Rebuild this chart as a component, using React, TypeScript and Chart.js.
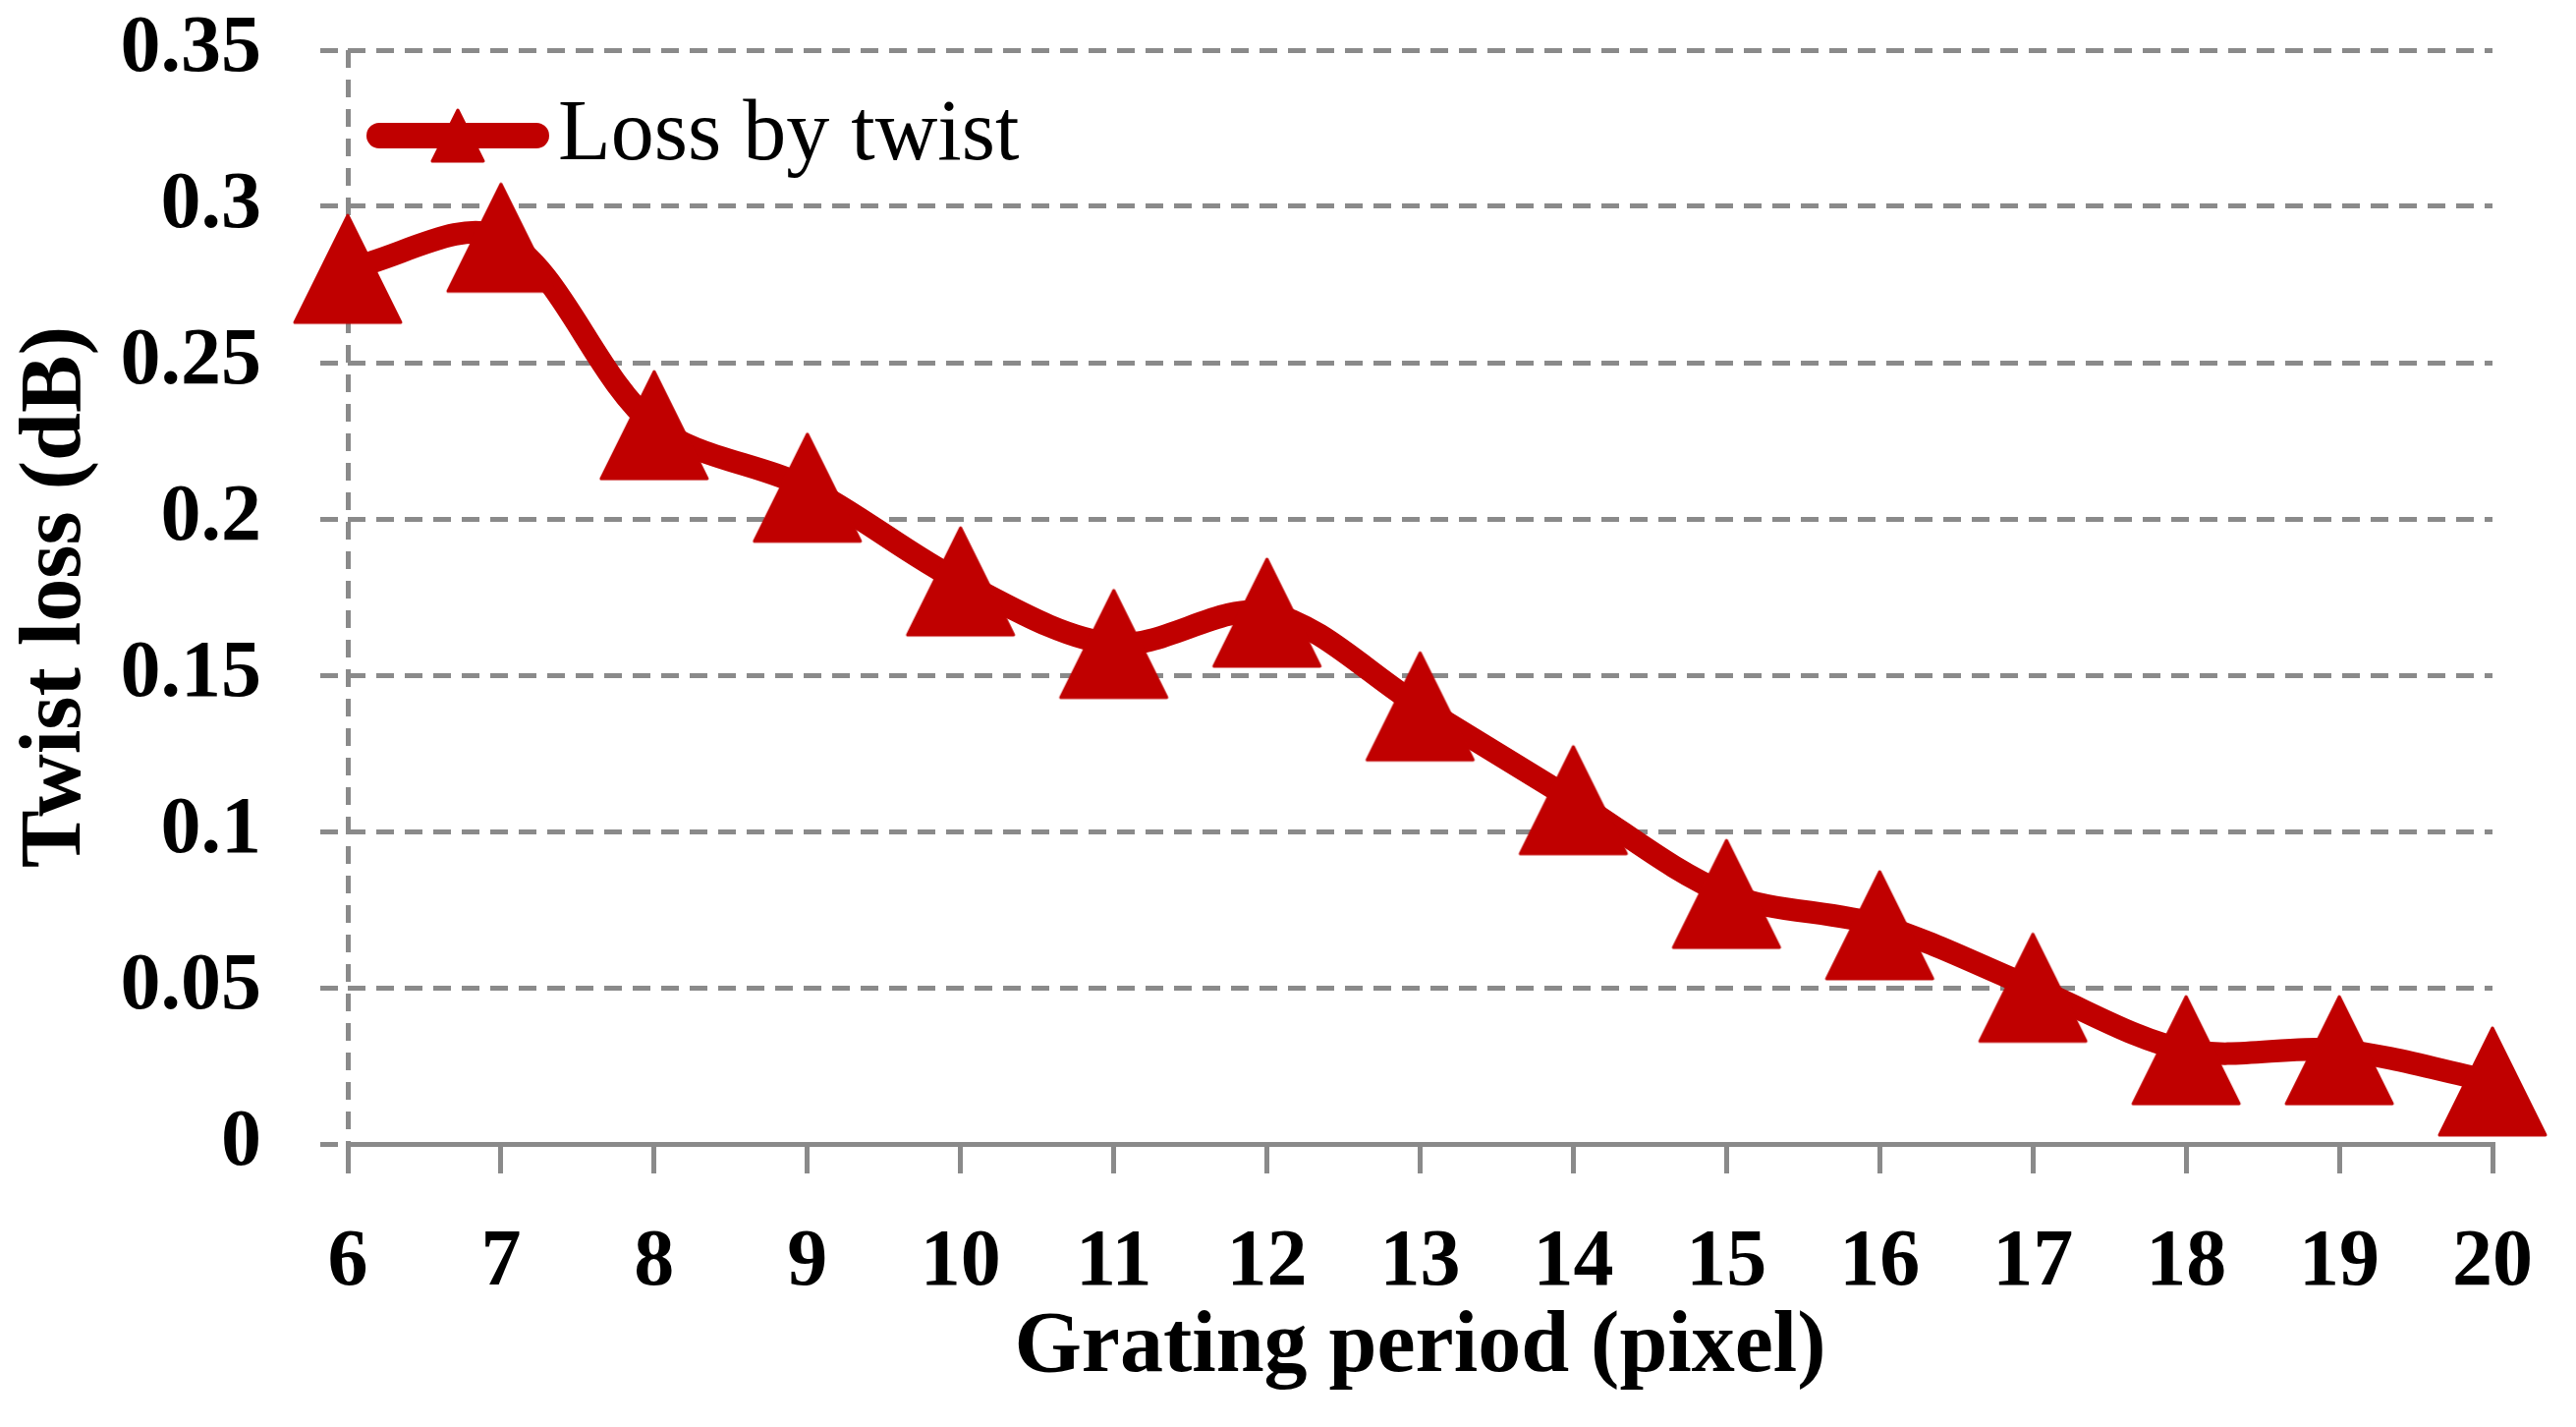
import React, { useEffect, useRef } from 'react'
import { Chart, registerables } from 'chart.js'

Chart.register(...registerables)

const gratingPeriods = ['6', '7', '8', '9', '10', '11', '12', '13', '14', '15', '16', '17', '18', '19', '20']
const lossByTwist = [0.28, 0.29, 0.23, 0.21, 0.18, 0.16, 0.17, 0.14, 0.11, 0.08, 0.07, 0.05, 0.03, 0.03, 0.02]
const yTickLabels = ['0', '0.05', '0.1', '0.15', '0.2', '0.25', '0.3', '0.35']

const RED = '#C00000'
const GRAY = '#8A8A8A'
const SERIF = '"Liberation Serif", "Times New Roman", serif'

const makeTriangle = (w: number, h: number) => {
  const c = document.createElement('canvas')
  c.width = w + 6
  c.height = h + 6
  const g = c.getContext('2d')!
  g.fillStyle = RED
  g.strokeStyle = RED
  g.lineJoin = 'round'
  g.lineWidth = 3
  g.beginPath()
  g.moveTo(c.width / 2, 3)
  g.lineTo(c.width - 3, c.height - 3)
  g.lineTo(3, c.height - 3)
  g.closePath()
  g.fill()
  g.stroke()
  return c
}

const legendPlugin = {
  id: 'twistLegend',
  afterDraw(chart: any) {
    const { ctx, chartArea } = chart
    const x0 = chartArea.left + 32
    const x1 = chartArea.left + 192
    const y = chartArea.top + 87
    ctx.save()
    ctx.strokeStyle = RED
    ctx.lineWidth = 26
    ctx.lineCap = 'round'
    ctx.beginPath()
    ctx.moveTo(x0, y)
    ctx.lineTo(x1, y)
    ctx.stroke()
    const tri = chart.$legendTri
    if (tri) ctx.drawImage(tri, (x0 + x1) / 2 - tri.width / 2, y - tri.height / 2)
    ctx.fillStyle = '#000'
    ctx.font = `88px ${SERIF}`
    ctx.textBaseline = 'alphabetic'
    ctx.textAlign = 'left'
    ctx.fillText('Loss by twist', chartArea.left + 214, chartArea.top + 111)
    ctx.restore()
  },
}

const TwistLossChart = () => {
  const chartRef = useRef<HTMLCanvasElement>(null)

  useEffect(() => {
    document.body.style.margin = '0'
    document.body.style.overflow = 'hidden'
    if (!chartRef.current) return
    const ctx = chartRef.current.getContext('2d')
    if (!ctx) return

    const marker = makeTriangle(108, 109)
    const legendMarker = makeTriangle(52, 52)

    const chart = new Chart(ctx, {
      type: 'line',
      data: {
        labels: gratingPeriods,
        datasets: [{
          label: 'Loss by twist',
          data: lossByTwist,
          borderColor: RED,
          backgroundColor: RED,
          borderWidth: 23,
          borderCapStyle: 'round',
          borderJoinStyle: 'round',
          tension: 0.33,
          pointStyle: marker,
          pointRadius: 55,
          pointHoverRadius: 55,
          pointBorderWidth: 0,
          clip: false,
        }],
      },
      options: {
        animation: false,
        responsive: true,
        maintainAspectRatio: false,
        events: [],
        layout: { autoPadding: false, padding: { top: 51, right: 85, left: 0, bottom: 0 } },
        plugins: {
          legend: { display: false },
          tooltip: { enabled: false },
        },
        scales: {
          x: {
            afterFit: (scale: any) => {
              scale.height = 288
              scale.paddingRight = 0
            },
            grid: {
              color: (c: any) => (c.index === 0 ? GRAY : 'rgba(0,0,0,0)'),
              lineWidth: 5,
              drawTicks: true,
              tickLength: 30,
              tickColor: GRAY,
              tickWidth: 5,
            },
            border: { display: true, color: GRAY, width: 5, dash: [18, 12] },
            ticks: {
              color: '#000',
              padding: 43,
              maxRotation: 0,
              autoSkip: false,
              font: { family: SERIF, size: 82, weight: 'bold' },
            },
            title: {
              display: true,
              text: 'Grating period (pixel)',
              color: '#000',
              padding: { top: 0, bottom: 27 },
              font: { family: SERIF, size: 88, weight: 'bold' },
            },
          },
          y: {
            min: 0,
            max: 0.35,
            afterFit: (scale: any) => {
              scale.width = 354
              scale.paddingTop = 0
              scale.paddingBottom = 0
            },
            grid: {
              color: GRAY,
              lineWidth: 5,
              drawTicks: true,
              tickLength: 28,
              tickColor: GRAY,
              tickWidth: 5,
              tickBorderDash: [18, 11],
            },
            border: { display: false, dash: [18, 11] },
            ticks: {
              stepSize: 0.05,
              color: '#000',
              padding: 60,
              font: { family: SERIF, size: 82, weight: 'bold' },
              callback: (_v: any, i: number) => yTickLabels[i],
            },
            title: {
              display: true,
              text: 'Twist loss (dB)',
              color: '#000',
              padding: { top: 5, bottom: 0 },
              font: { family: SERIF, size: 88, weight: 'bold' },
            },
          },
        },
      },
      plugins: [legendPlugin],
    } as any)
    ;(chart as any).$legendTri = legendMarker
    chart.draw()

    return () => {
      chart.destroy()
    }
  }, [])

  return (
    <div style={{ width: 2622, height: 1452, position: 'relative' }}>
      <canvas ref={chartRef} />
    </div>
  )
}

export default TwistLossChart
